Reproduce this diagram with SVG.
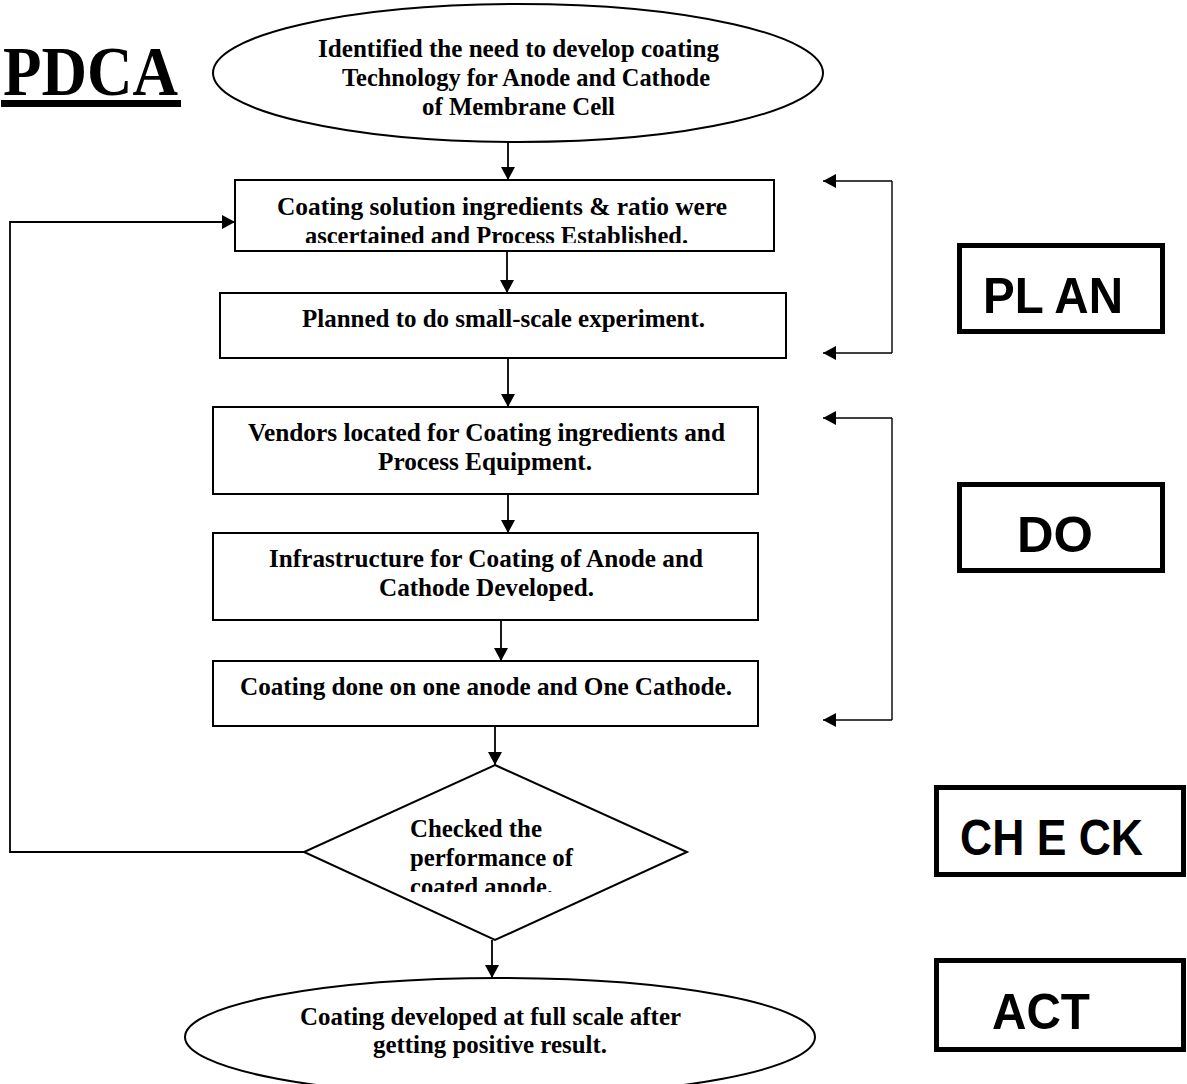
<svg xmlns="http://www.w3.org/2000/svg" width="1187" height="1084" viewBox="0 0 1187 1084">
<defs>
<style>
.shape{fill:#fff;stroke:#000;stroke-width:2}
.t{font-family:"Liberation Serif","Times New Roman",serif;font-weight:bold;font-size:26px;fill:#000}
.lbl{font-family:"Liberation Sans",Arial,sans-serif;font-weight:bold;font-size:50px;fill:#000}
.frame{fill:none;stroke:#000;stroke-width:5}
.conn{fill:none;stroke:#000;stroke-width:1.8}
.br{fill:none;stroke:#000;stroke-width:1.4}
</style>
<marker id="ah" markerUnits="userSpaceOnUse" markerWidth="14" markerHeight="14" refX="13" refY="7" orient="auto">
<path d="M0,0 L13,7 L0,14 Z" fill="#000"/>
</marker>
<clipPath id="clip1"><rect x="236" y="181" width="537" height="62"/></clipPath>
<clipPath id="clipD"><rect x="300" y="760" width="400" height="132"/></clipPath>
</defs>
<rect width="1187" height="1084" fill="#fff"/>

<g id="title">
<text x="3" y="95" font-family="Liberation Serif,'Times New Roman',serif" font-weight="bold" font-size="70" textLength="175" lengthAdjust="spacingAndGlyphs">PDCA</text>
<rect x="1" y="100" width="180" height="7" fill="#000"/>
</g>

<g id="connectors">
<line class="conn" x1="508" y1="142" x2="508" y2="180" marker-end="url(#ah)"/>
<line class="conn" x1="507" y1="251" x2="507" y2="293" marker-end="url(#ah)"/>
<line class="conn" x1="508" y1="358" x2="508" y2="407" marker-end="url(#ah)"/>
<line class="conn" x1="508" y1="494" x2="508" y2="533" marker-end="url(#ah)"/>
<line class="conn" x1="501" y1="620" x2="501" y2="661" marker-end="url(#ah)"/>
<line class="conn" x1="495" y1="726" x2="495" y2="765" marker-end="url(#ah)"/>
<line class="conn" x1="492" y1="940" x2="492" y2="978" marker-end="url(#ah)"/>
<path class="conn" d="M304,852 H10 V222 H235" marker-end="url(#ah)"/>
<path class="br" d="M892,181 V353" />
<line class="br" x1="892" y1="181" x2="823" y2="181" marker-end="url(#ah)"/>
<line class="br" x1="892" y1="353" x2="823" y2="353" marker-end="url(#ah)"/>
<path class="br" d="M892,418 V720" />
<line class="br" x1="892" y1="418" x2="823" y2="418" marker-end="url(#ah)"/>
<line class="br" x1="892" y1="720" x2="823" y2="720" marker-end="url(#ah)"/>
</g>

<g id="start">
<ellipse class="shape" cx="518" cy="73" rx="305" ry="69"/>
<text class="t" x="318" y="57" font-size="24" textLength="401" lengthAdjust="spacingAndGlyphs">Identified the need to develop coating</text>
<text class="t" x="342" y="86" font-size="24" textLength="368" lengthAdjust="spacingAndGlyphs">Technology for Anode and Cathode</text>
<text class="t" x="422" y="115" font-size="24" textLength="193" lengthAdjust="spacingAndGlyphs">of Membrane Cell</text>
</g>

<g id="box1">
<rect class="shape" x="235" y="180" width="539" height="71"/>
<text class="t" x="277" y="215" textLength="450" lengthAdjust="spacingAndGlyphs">Coating solution ingredients  &amp; ratio were</text>
<text class="t" x="305" y="244" textLength="383" lengthAdjust="spacingAndGlyphs" clip-path="url(#clip1)">ascertained and Process Established.</text>
</g>

<g id="box2">
<rect class="shape" x="220" y="293" width="566" height="65"/>
<text class="t" x="302" y="327" textLength="403" lengthAdjust="spacingAndGlyphs">Planned to do small-scale experiment.</text>
</g>

<g id="box3">
<rect class="shape" x="213" y="407" width="545" height="87"/>
<text class="t" x="248" y="441" textLength="477" lengthAdjust="spacingAndGlyphs">Vendors located for Coating ingredients and</text>
<text class="t" x="378" y="470" textLength="214" lengthAdjust="spacingAndGlyphs">Process Equipment.</text>
</g>

<g id="box4">
<rect class="shape" x="213" y="533" width="545" height="87"/>
<text class="t" x="269" y="567" textLength="434" lengthAdjust="spacingAndGlyphs">Infrastructure for Coating of Anode and</text>
<text class="t" x="379" y="596" textLength="215" lengthAdjust="spacingAndGlyphs">Cathode Developed.</text>
</g>

<g id="box5">
<rect class="shape" x="213" y="661" width="545" height="65"/>
<text class="t" x="240" y="695" textLength="492" lengthAdjust="spacingAndGlyphs">Coating done on one anode and One Cathode.</text>
</g>

<g id="decision">
<polygon class="shape" points="495,765 687,852 495,940 304,852"/>
<text class="t" x="410" y="837" textLength="132" lengthAdjust="spacingAndGlyphs">Checked the</text>
<text class="t" x="410" y="866" textLength="163" lengthAdjust="spacingAndGlyphs">performance of</text>
<text class="t" x="410" y="895" textLength="143" lengthAdjust="spacingAndGlyphs" clip-path="url(#clipD)">coated anode.</text>
</g>

<g id="end">
<ellipse class="shape" cx="500" cy="1037" rx="315" ry="59"/>
<text class="t" x="300" y="1025" textLength="381" lengthAdjust="spacingAndGlyphs">Coating developed at full scale after</text>
<text class="t" x="373" y="1053" textLength="234" lengthAdjust="spacingAndGlyphs">getting positive result.</text>
</g>

<g id="plan">
<rect class="frame" x="959.5" y="245.5" width="203" height="86"/>
<text class="lbl" x="983" y="313" textLength="140" lengthAdjust="spacingAndGlyphs">PL AN</text>
</g>
<g id="do">
<rect class="frame" x="959.5" y="484.5" width="203" height="86"/>
<text class="lbl" x="1017" y="552" textLength="76" lengthAdjust="spacingAndGlyphs">DO</text>
</g>
<g id="check">
<rect class="frame" x="936.5" y="787.5" width="247" height="87"/>
<text class="lbl" x="960" y="855" textLength="183" lengthAdjust="spacingAndGlyphs">CH E CK</text>
</g>
<g id="act">
<rect class="frame" x="936.5" y="960.5" width="247" height="89"/>
<text class="lbl" x="992" y="1029" textLength="98" lengthAdjust="spacingAndGlyphs">ACT</text>
</g>
</svg>
